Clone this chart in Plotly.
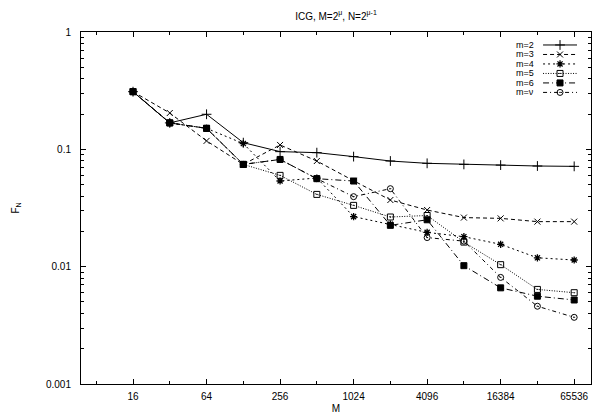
import math
import plotly.graph_objects as go

# data (F_N against M = 2^mu)
M = [16, 32, 64, 128, 256, 512, 1024, 2048, 4096, 8192, 16384, 32768, 65536]
m2 = [0.31, 0.168, 0.199, 0.114, 0.0956, 0.0937, 0.0867, 0.0795, 0.076, 0.0744, 0.0734, 0.0721, 0.0716]
m3 = [0.31, 0.204, 0.118, 0.0744, 0.109, 0.0795, 0.054, 0.037, 0.0304, 0.0262, 0.0258, 0.0242, 0.0242]
m4 = [0.31, 0.168, 0.151, 0.112, 0.0537, 0.057, 0.0267, 0.023, 0.0196, 0.018, 0.0155, 0.0119, 0.0114]
m5 = [0.31, 0.168, 0.151, 0.0744, 0.060, 0.0413, 0.0333, 0.0265, 0.0273, 0.0162, 0.0104, 0.0064, 0.0060]
m6 = [0.31, 0.168, 0.151, 0.0744, 0.082, 0.0562, 0.0537, 0.0225, 0.0251, 0.0102, 0.0066, 0.0056, 0.0052]
mnu = [0.31, 0.168, 0.151, 0.0744, 0.082, 0.0562, 0.0395, 0.0462, 0.0177, 0.0165, 0.0081, 0.0046, 0.0037]

labels = ["m=2", "m=3", "m=4", "m=5", "m=6", "m=ν"]
x_ticks = [16, 64, 256, 1024, 4096, 16384, 65536]
y_ticks = [0.001, 0.01, 0.1, 1]

series = [m2, m3, m4, m5, m6, mnu]
styles = [
    dict(dash="solid", symbol="cross-thin-open", size=7, lw=1),
    dict(dash="4px,3px", symbol="x-thin-open", size=6, lw=1),
    dict(dash="2px,3px", symbol="asterisk-open", size=6, lw=1.3),
    dict(dash="1px,1.5px", symbol="square-open-dot", size=6, lw=1),
    dict(dash="6px,3px,1px,3px", symbol="square", size=6, lw=1),
    dict(dash="4px,3px,1px,3px", symbol="circle-open-dot", size=6, lw=1),
]

FONT = "Liberation Sans, Arial, Helvetica, sans-serif"
# plot box in page pixels; the page body adds an 8px offset
OFF = 8
W, H = 600 - OFF, 419 - OFF
L, R, T, B = 80.5, 591, 32, 384.5

fig = go.Figure()

for ys, st in zip(series, styles):
    fig.add_trace(go.Scatter(
        x=M, y=ys, mode="lines+markers",
        line=dict(color="black", width=1, dash=st["dash"]),
        marker=dict(symbol=st["symbol"], size=st["size"], color="black",
                    line=dict(color="black", width=st["lw"])),
        showlegend=False, hoverinfo="skip",
    ))

# gnuplot-style key: text on the left, line sample on the right
for i, (lab, st) in enumerate(zip(labels, styles)):
    ry = 45 + 9.5 * i
    fig.add_trace(go.Scatter(
        x=[543, 577], y=[ry, ry], mode="lines", xaxis="x2", yaxis="y2",
        line=dict(color="black", width=1, dash=st["dash"]),
        showlegend=False, hoverinfo="skip",
    ))
    fig.add_trace(go.Scatter(
        x=[560], y=[ry], mode="markers", xaxis="x2", yaxis="y2",
        marker=dict(symbol=st["symbol"], size=st["size"], color="black",
                    line=dict(color="black", width=st["lw"])),
        showlegend=False, hoverinfo="skip",
    ))
    fig.add_annotation(x=536, y=ry, xref="x2", yref="y2", text=lab,
                       showarrow=False, xanchor="right", yanchor="middle",
                       font=dict(family=FONT, size=9, color="black"))

x_minor = [8] + [v * 2 for v in x_ticks[:-1]]
y_minor = [k * 10 ** e for e in range(-3, 0) for k in range(2, 10)]

axis_common = dict(
    showline=True, linecolor="black", linewidth=1, mirror="ticks",
    ticks="inside", tickcolor="black", tickwidth=1, showgrid=False,
    zeroline=False, automargin=False,
    tickfont=dict(family=FONT, size=10, color="black"),
)

fig.update_layout(
    width=W, height=H,
    margin=dict(l=L - OFF, r=600 - R, t=T - OFF, b=419 - B, autoexpand=False),
    paper_bgcolor="white", plot_bgcolor="white",
    title=dict(text="ICG, M=2<sup>μ</sup>, N=2<sup>μ-1</sup>", x=(336 - OFF) / W, xanchor="center",
               y=1 - (16 - OFF) / H, yanchor="middle",
               font=dict(family=FONT, size=10, color="black")),
    xaxis=dict(type="log", range=[math.log10(6), math.log10(90000)],
               tickmode="array", tickvals=x_ticks, ticktext=[str(v) for v in x_ticks],
               ticklen=5, ticklabelstandoff=3,
               minor=dict(tickmode="array", tickvals=x_minor, ticks="inside",
                          ticklen=3, tickcolor="black"),
               title=dict(text="M", standoff=3,
                          font=dict(family=FONT, size=10, color="black")),
               **axis_common),
    yaxis=dict(type="log", range=[-3, 0],
               tickmode="array", tickvals=y_ticks, ticktext=[str(v) for v in y_ticks],
               ticklen=5, ticklabelstandoff=7,
               minor=dict(tickmode="array", tickvals=y_minor, ticks="inside",
                          ticklen=3, tickcolor="black"),
               title=dict(text="F<sub>N</sub>", standoff=24,
                          font=dict(family=FONT, size=10, color="black")),
               **axis_common),
    xaxis2=dict(overlaying="x", range=[L, R], visible=False, fixedrange=True),
    yaxis2=dict(overlaying="y", range=[B, T], visible=False, fixedrange=True),
)

fig.write_html("out.html")
